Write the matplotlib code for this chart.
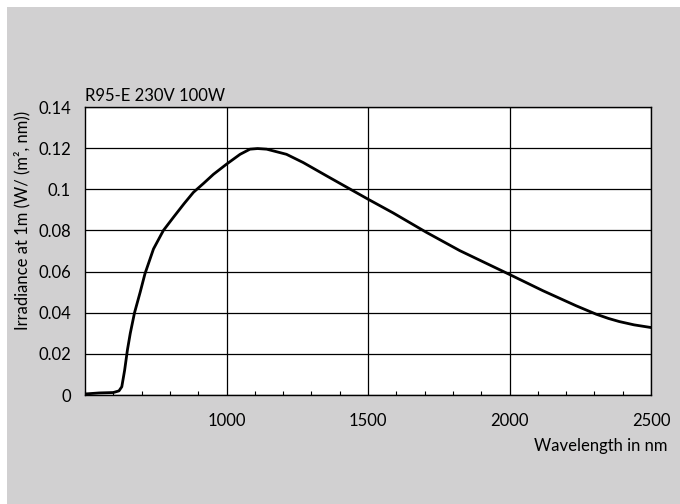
import matplotlib
matplotlib.use("Agg")
import matplotlib.pyplot as plt
from matplotlib.patches import Rectangle
from matplotlib.ticker import MultipleLocator

# spectrum
wavelength = [500, 550, 600, 620, 630, 640, 650, 660, 675, 695, 712, 742, 777, 812,
              850, 883, 920, 954, 1000, 1048, 1083, 1110, 1142, 1212, 1271, 1354,
              1447, 1500, 1589, 1706, 1824, 2000, 2118, 2235, 2306, 2350, 2388, 2440, 2500]
irradiance = [0.0005, 0.001, 0.0012, 0.002, 0.004, 0.012, 0.022, 0.030, 0.040, 0.050,
              0.059, 0.071, 0.080, 0.0863, 0.093, 0.0985, 0.103, 0.1073, 0.1122, 0.117,
              0.1195, 0.1198, 0.1195, 0.117, 0.113, 0.1065, 0.0993, 0.0952, 0.0885,
              0.0791, 0.0702, 0.0586, 0.0507, 0.0434, 0.0393, 0.0372, 0.0357, 0.0341, 0.0328]
x_ticks = [1000, 1500, 2000, 2500]
y_ticks = [0, 0.02, 0.04, 0.06, 0.08, 0.1, 0.12, 0.14]
y_labels = ['0', '0.02', '0.04', '0.06', '0.08', '0.1', '0.12', '0.14']

plt.rcParams['font.family'] = ['Lato', 'DejaVu Sans']

fig = plt.figure(figsize=(6.8, 5.04), dpi=100)
fig.patch.set_facecolor('#d1d0d1')
# thin white strips at the top and left edges
fig.patches.append(Rectangle((0, 1 - 7 / 504), 1, 7 / 504, transform=fig.transFigure,
                             facecolor='white', edgecolor='none'))
fig.patches.append(Rectangle((0, 0), 7 / 680, 1, transform=fig.transFigure,
                             facecolor='white', edgecolor='none'))

ax = fig.add_axes([85 / 680, 1 - 395 / 504, 566 / 680, 288 / 504])
ax.set_facecolor('white')
ax.plot(wavelength, irradiance, color='black', lw=2.0, zorder=3,
        solid_joinstyle='round')

ax.set_xlim(500, 2500)
ax.set_ylim(0, 0.14)
ax.set_xticks(x_ticks)
ax.set_yticks(y_ticks)
ax.set_yticklabels(y_labels)
ax.xaxis.set_minor_locator(MultipleLocator(100))
ax.tick_params(axis='x', which='major', length=0, pad=13, labelsize=12)
ax.tick_params(axis='x', which='minor', direction='in', length=3, width=0.8)
ax.tick_params(axis='y', length=0, pad=10, labelsize=12)

ax.grid(True, which='major', axis='both', color='black', lw=0.9)
for s in ax.spines.values():
    s.set_color('black')
    s.set_linewidth(1.0)

ax.set_ylabel('Irradiance at 1m (W/ (m², nm))', fontsize=12)
ax.yaxis.set_label_coords(-0.097, 0.605)
ax.set_title('R95-E 230V 100W', fontsize=12, loc='left', pad=4)
fig.text(668 / 680, 1 - 446 / 504, 'Wavelength in nm', fontsize=12,
         ha='right', va='center')

fig.savefig('out.png', dpi=100)
